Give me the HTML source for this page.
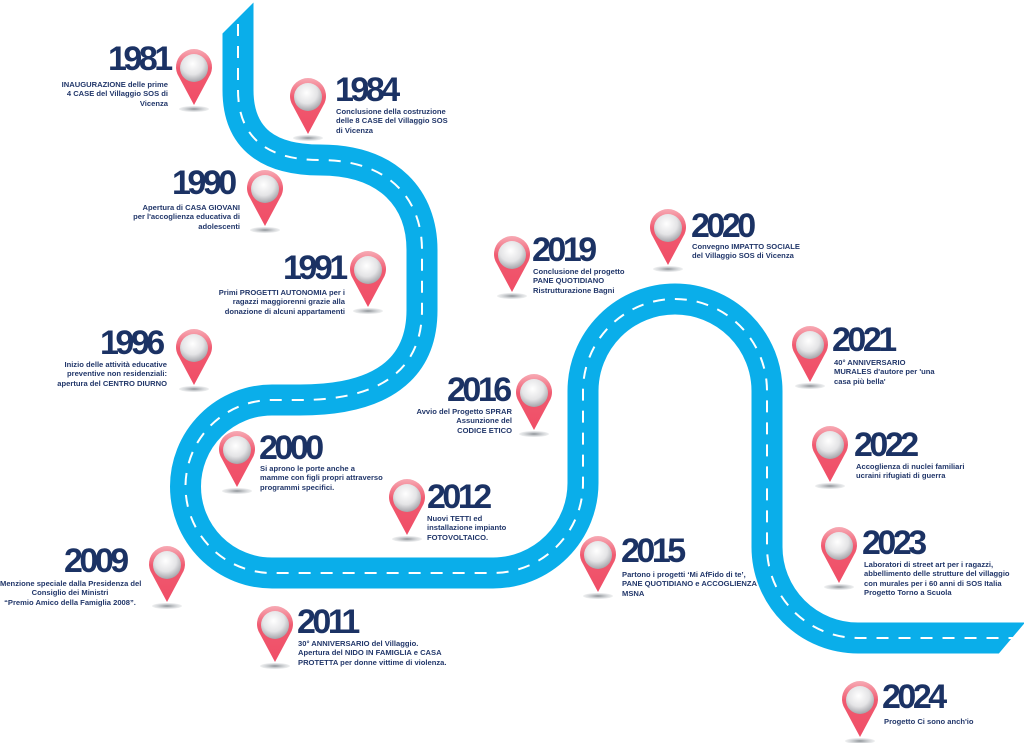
<!DOCTYPE html>
<html><head><meta charset="utf-8"><style>
body{margin:0;background:#fff;}
#w{position:relative;width:1024px;height:743px;overflow:hidden;font-family:"Liberation Sans",Arial,sans-serif;}
svg{position:absolute;left:0;top:0;}
.y{position:absolute;font-size:34px;line-height:34px;font-weight:bold;letter-spacing:-3.5px;color:#1b3264;white-space:nowrap;}
.d{position:absolute;font-size:7.6px;line-height:9.4px;font-weight:bold;color:#22376a;white-space:nowrap;}
.r{text-align:right;}
.c{text-align:center;}
</style></head><body><div id="w">
<svg width="1024" height="743" viewBox="0 0 1024 743">
<defs>
<radialGradient id="sph" cx="0.45" cy="0.35" r="0.7">
<stop offset="0" stop-color="#ffffff"/><stop offset="0.55" stop-color="#e4e4e6"/><stop offset="1" stop-color="#9a9aa0"/>
</radialGradient>
<linearGradient id="red" x1="0" y1="0" x2="0" y2="1">
<stop offset="0" stop-color="#f7aab4"/><stop offset="0.35" stop-color="#f05a70"/><stop offset="1" stop-color="#f04d66"/>
</linearGradient>
<radialGradient id="sh"><stop offset="0" stop-color="#8a8f94"/><stop offset="1" stop-color="#c8ccd0" stop-opacity="0.3"/></radialGradient>
<g id="pin">
<ellipse cx="0" cy="41" rx="15" ry="3" fill="url(#sh)"/>
<path d="M0,37 L-15,9 A18,18 0 1 1 15,9 Z" fill="url(#red)"/>
<circle cx="0" cy="0" r="14" fill="url(#sph)"/>
</g>
</defs>
<path d="M238,-20 L238,90 C238,140 270,160 320,160 C390,160 422,200 422,250 L422,310 C422,370 380,400 300,400 L272,400 A86.5,86.5 0 0 0 272,573 L493,573 A90,90 0 0 0 583,483 L583,391 A92,92 0 0 1 767,391 L767,547 A91,91 0 0 0 858,638 L1040,638" fill="none" stroke="#0aaeea" stroke-width="31"/>
<path d="M238,-20 L238,90 C238,140 270,160 320,160 C390,160 422,200 422,250 L422,310 C422,370 380,400 300,400 L272,400 A86.5,86.5 0 0 0 272,573 L493,573 A90,90 0 0 0 583,483 L583,391 A92,92 0 0 1 767,391 L767,547 A91,91 0 0 0 858,638 L1040,638" fill="none" stroke="#fff" stroke-width="2" stroke-dasharray="12 10"/>
<polygon points="210,0 256,0 210,46" fill="#fff"/>
<polygon points="1028,619 1040,619 1040,690 968,690" fill="#fff"/>
<use href="#pin" x="194" y="68"/>
<use href="#pin" x="308" y="97"/>
<use href="#pin" x="265" y="189"/>
<use href="#pin" x="368" y="270"/>
<use href="#pin" x="194" y="348"/>
<use href="#pin" x="237" y="450"/>
<use href="#pin" x="407" y="498"/>
<use href="#pin" x="534" y="393"/>
<use href="#pin" x="167" y="565"/>
<use href="#pin" x="275" y="625"/>
<use href="#pin" x="598" y="555"/>
<use href="#pin" x="512" y="255"/>
<use href="#pin" x="668" y="228"/>
<use href="#pin" x="810" y="345"/>
<use href="#pin" x="830" y="445"/>
<use href="#pin" x="839" y="546"/>
<use href="#pin" x="860" y="700"/>
</svg>

<div class="y" style="left:108px;top:42px">1981</div>
<div class="d r" style="right:856px;top:80px">INAUGURAZIONE delle prime<br>4 CASE del Villaggio SOS di<br>Vicenza</div>

<div class="y" style="left:335px;top:73px">1984</div>
<div class="d" style="left:336px;top:107px">Conclusione della costruzione<br>delle 8 CASE del Villaggio SOS<br>di Vicenza</div>

<div class="y" style="left:172px;top:166px">1990</div>
<div class="d r" style="right:784px;top:203px">Apertura di CASA GIOVANI<br>per l'accoglienza educativa di<br>adolescenti</div>

<div class="y" style="left:283px;top:251px">1991</div>
<div class="d r" style="right:679px;top:288px">Primi PROGETTI AUTONOMIA per i<br>ragazzi maggiorenni grazie alla<br>donazione di alcuni appartamenti</div>

<div class="y" style="left:100px;top:326px">1996</div>
<div class="d r" style="right:857px;top:360px">Inizio delle attività educative<br>preventive non residenziali:<br>apertura del CENTRO DIURNO</div>

<div class="y" style="left:259px;top:431px">2000</div>
<div class="d" style="left:260px;top:464px">Si aprono le porte anche a<br>mamme con figli propri attraverso<br>programmi specifici.</div>

<div class="y" style="left:427px;top:480px">2012</div>
<div class="d" style="left:427px;top:514px">Nuovi TETTI ed<br>installazione impianto<br>FOTOVOLTAICO.</div>

<div class="y" style="left:447px;top:373px">2016</div>
<div class="d r" style="right:512px;top:407px">Avvio del Progetto SPRAR<br>Assunzione del<br>CODICE ETICO</div>

<div class="y" style="left:532px;top:233px">2019</div>
<div class="d" style="left:533px;top:267px">Conclusione del progetto<br>PANE QUOTIDIANO<br>Ristrutturazione Bagni</div>

<div class="y" style="left:691px;top:209px">2020</div>
<div class="d" style="left:692px;top:242px">Convegno IMPATTO SOCIALE<br>del Villaggio SOS di Vicenza</div>

<div class="y" style="left:832px;top:323px">2021</div>
<div class="d" style="left:834px;top:358px">40° ANNIVERSARIO<br>MURALES d'autore per 'una<br>casa più bella'</div>

<div class="y" style="left:854px;top:428px">2022</div>
<div class="d" style="left:856px;top:462px">Accoglienza di nuclei familiari<br>ucraini rifugiati di guerra</div>

<div class="y" style="left:862px;top:526px">2023</div>
<div class="d" style="left:864px;top:560px">Laboratori di street art per i ragazzi,<br>abbellimento delle strutture del villaggio<br>con murales per i 60 anni di SOS Italia<br>Progetto Torno a Scuola</div>

<div class="y" style="left:882px;top:680px">2024</div>
<div class="d" style="left:884px;top:717px">Progetto Ci sono anch'io</div>

<div class="y" style="left:64px;top:544px">2009</div>
<div class="d c" style="left:0px;width:140px;top:579px">Menzione speciale dalla Presidenza del<br>Consiglio dei Ministri<br>“Premio Amico della Famiglia 2008”.</div>

<div class="y" style="left:297px;top:605px">2011</div>
<div class="d" style="left:298px;top:639px">30° ANNIVERSARIO del Villaggio.<br>Apertura del NIDO IN FAMIGLIA e CASA<br>PROTETTA per donne vittime di violenza.</div>

<div class="y" style="left:621px;top:534px">2015</div>
<div class="d" style="left:622px;top:570px">Partono i progetti ‘Mi AfFido di te’,<br>PANE QUOTIDIANO e ACCOGLIENZA<br>MSNA</div>
</div></body></html>
